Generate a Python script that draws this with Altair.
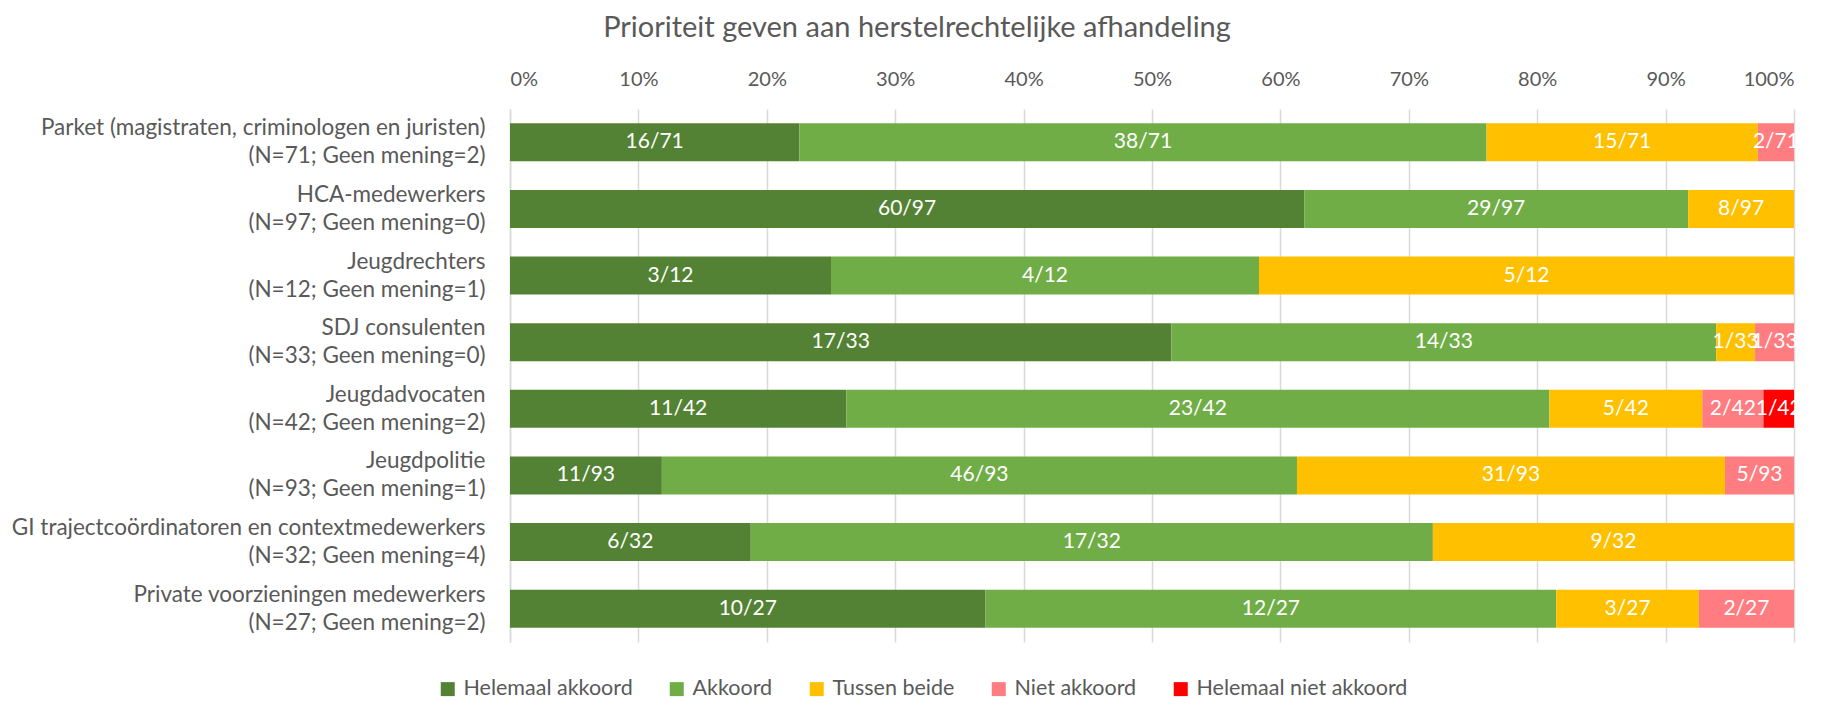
import altair as alt
import pandas as pd

groups = [
    "Parket (magistraten, criminologen en juristen)|(N=71; Geen mening=2)",
    "HCA-medewerkers|(N=97; Geen mening=0)",
    "Jeugdrechters|(N=12; Geen mening=1)",
    "SDJ consulenten|(N=33; Geen mening=0)",
    "Jeugdadvocaten|(N=42; Geen mening=2)",
    "Jeugdpolitie|(N=93; Geen mening=1)",
    "GI trajectcoördinatoren en contextmedewerkers|(N=32; Geen mening=4)",
    "Private voorzieningen medewerkers|(N=27; Geen mening=2)",
]
categories = ["Helemaal akkoord", "Akkoord", "Tussen beide", "Niet akkoord", "Helemaal niet akkoord"]
colors = ["#548235", "#70AD47", "#FFC000", "#FF7C80", "#FF0000"]
totals = [71, 97, 12, 33, 42, 93, 32, 27]
helemaal_akkoord = [16, 60, 3, 17, 11, 11, 6, 10]
akkoord = [38, 29, 4, 14, 23, 46, 17, 12]
tussen_beide = [15, 8, 5, 1, 5, 31, 9, 3]
niet_akkoord = [2, 0, 0, 1, 2, 5, 0, 2]
helemaal_niet_akkoord = [0, 0, 0, 0, 1, 0, 0, 0]
tick_values = [0, 0.1, 0.2, 0.3, 0.4, 0.5, 0.6, 0.7, 0.8, 0.9, 1.0]

series = [helemaal_akkoord, akkoord, tussen_beide, niet_akkoord, helemaal_niet_akkoord]
rows = []
for gi, g in enumerate(groups):
    for ci, c in enumerate(categories):
        v = series[ci][gi]
        if v > 0:
            rows.append({"group": g, "category": c, "cat_idx": ci, "count": v,
                         "label": f"{v}/{totals[gi]}"})
df = pd.DataFrame(rows)

FONT = "Lato"
GREY = "#595959"

base = alt.Chart(df)

bars = base.mark_bar(size=38).encode(
    y=alt.Y("group:N", sort=groups, title=None,
            axis=alt.Axis(labelExpr="split(datum.label, '|')", labelFontSize=22.5,
                          labelColor=GREY, labelFont=FONT, labelLineHeight=28,
                          labelOffset=-14, labelPadding=25, ticks=False, domain=True,
                          domainColor="#D9D9D9", domainWidth=1.5, grid=False,
                          labelLimit=700)),
    x=alt.X("count:Q", stack="normalize", title=None,
            scale=alt.Scale(domain=[0, 1], nice=False),
            axis=alt.Axis(orient="top", format=".0%", values=tick_values, labelFontSize=20,
                          labelColor=GREY, labelFont=FONT, ticks=False, domain=False,
                          grid=True, gridColor="#D9D9D9", gridWidth=1.5, labelPadding=20)),
    color=alt.Color("category:N", sort=categories,
                    scale=alt.Scale(domain=categories, range=colors),
                    legend=alt.Legend(title=None, orient="none", direction="horizontal",
                                      legendX=-73, legendY=569, symbolType="square",
                                      symbolSize=196, symbolStrokeWidth=0, labelFontSize=21.5,
                                      labelColor=GREY, labelFont=FONT, columnPadding=33,
                                      labelOffset=5, labelLimit=400)),
    order=alt.Order("cat_idx:Q"),
)

texts = base.transform_stack(
    stack="count", groupby=["group"], sort=[alt.SortField("cat_idx")],
    offset="normalize", as_=["x0", "x1"]
).transform_calculate(
    mid="(datum.x0 + datum.x1) / 2"
).mark_text(color="white", fontSize=21, font=FONT, baseline="middle").encode(
    y=alt.Y("group:N", sort=groups),
    x=alt.X("mid:Q", scale=alt.Scale(domain=[0, 1], nice=False)),
    text="label:N",
)

chart = alt.layer(bars, texts).properties(
    width=1284, height=533,
    title=alt.TitleParams("Prioriteit geven aan herstelrechtelijke afhandeling",
                          fontSize=29, font=FONT, color=GREY, fontWeight="normal",
                          anchor="middle", dx=-235, offset=26),
    autosize=alt.AutoSizeParams(type="none"),
    padding={"left": 502, "top": 101, "right": 34, "bottom": 60},
).configure_view(stroke=None)

chart.save("out.html", embed_options={"renderer": "svg", "actions": False})
